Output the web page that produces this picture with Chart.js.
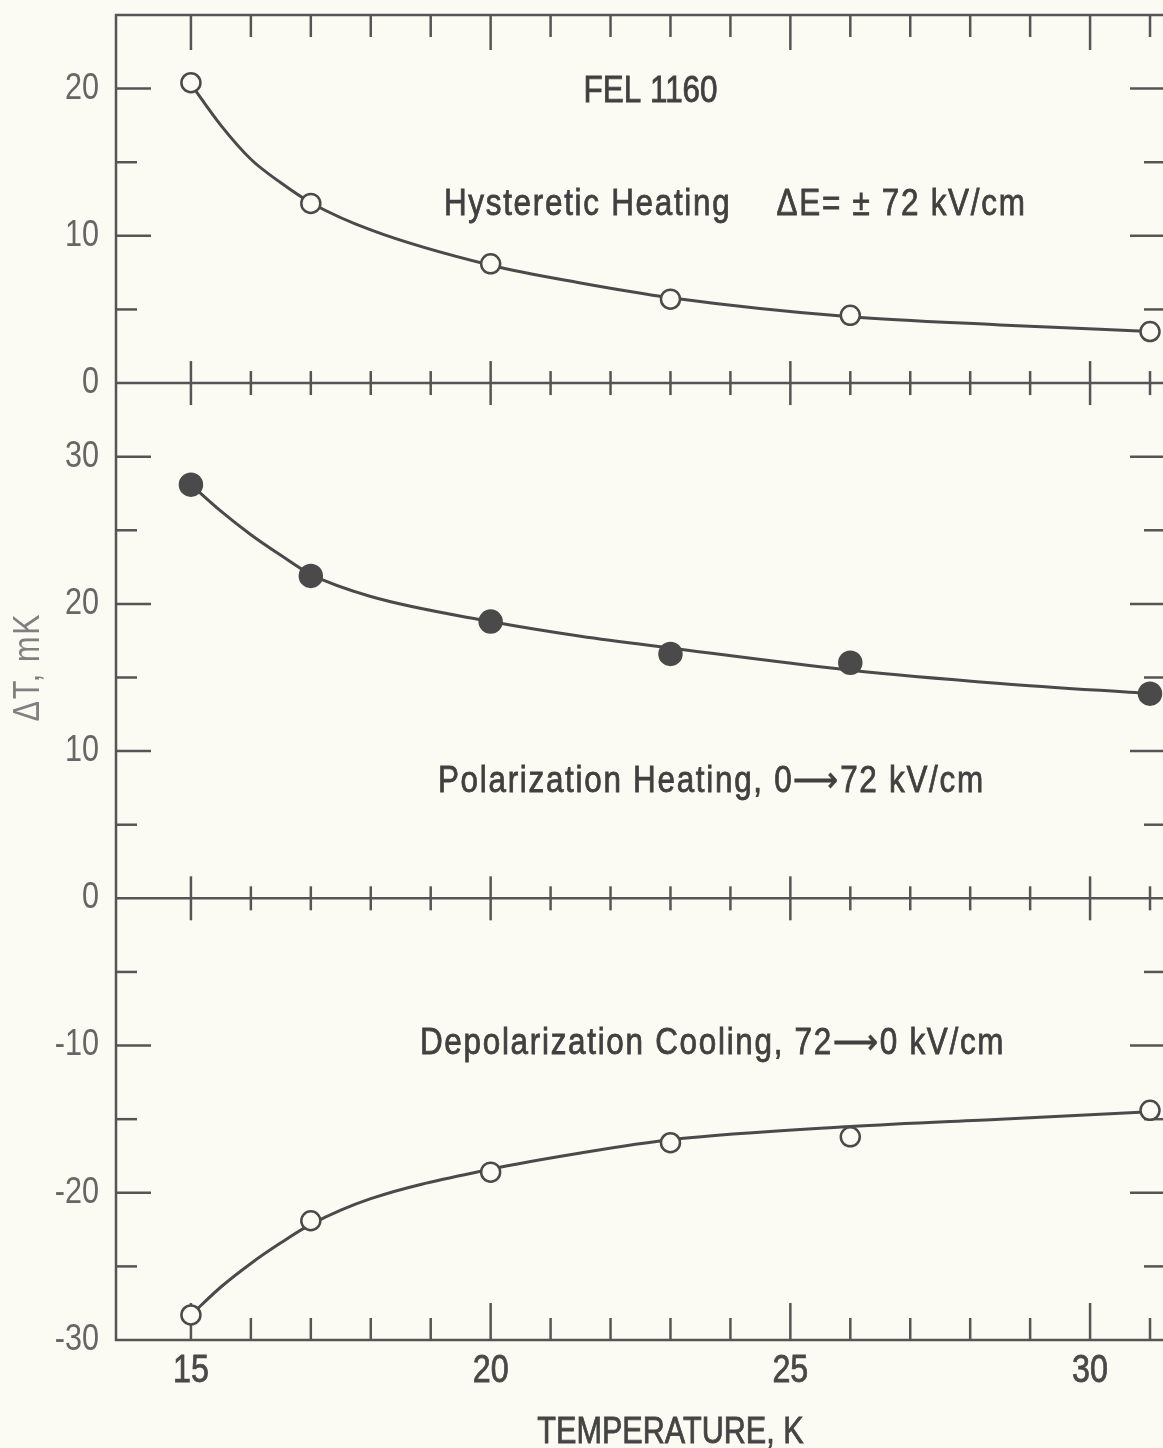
<!DOCTYPE html>
<html lang="en">
<head>
  <meta charset="UTF-8">
  <title>FEL 1160 - electrocaloric temperature change</title>
  <script src="https://cdn.jsdelivr.net/npm/chart.js"></script>
  <style>
    html, body { margin: 0; padding: 0; overflow: hidden; background: #fbfbf3; }
    #wrap { width: 1180px; height: 1448px; }
  </style>
</head>
<body>
<div id="wrap"><canvas id="dtChart" width="1180" height="1448"></canvas></div>

<script>
// measured points, temperature in K, delta T in mK
const temperatures = [15, 17, 20, 23, 26, 31];
const hystereticHeating = [20.4, 12.2, 8.1, 5.7, 4.6, 3.5];
const polarizationHeating = [28.1, 21.9, 18.8, 16.6, 16.0, 13.9];
const depolarizationCooling = [-28.3, -21.9, -18.6, -16.6, -16.2, -14.4];

// smooth curves drawn through the points
const curveTemps = [15, 15.5, 16, 16.5, 17, 18, 20, 21.5, 23, 26, 28.5, 31];
const hystereticCurve = [20.3, 17.5, 15.2, 13.6, 12.25, 10.4, 8.0, 6.8, 5.8, 4.5, 3.95, 3.5];
const polarizationCurve = [28.1, 26.3, 24.7, 23.3, 22.0, 20.5, 18.8, 17.8, 17.0, 15.5, 14.6, 13.9];
const depolarizationCurve = [-28.3, -26.4, -24.8, -23.4, -22.15, -20.4, -18.4, -17.3, -16.4, -15.5, -15.0, -14.5];

const xTickLabels = [15, 20, 25, 30];

const ink = "#4a4a4a";
const paper = "#fbfbf3";
const fontFamily = "'Liberation Sans', Arial, sans-serif";
const squeeze = 0.85; // condensed lettering

const pts = (xs, ys) => xs.map((x, i) => ({ x: x, y: ys[i] }));

function markers(label, axis, ys, filled) {
  return {
    label: label,
    yAxisID: axis,
    data: pts(temperatures, ys),
    showLine: false,
    pointRadius: filled ? 11 : 9.5,
    pointBorderWidth: 2.5,
    pointBorderColor: ink,
    pointBackgroundColor: filled ? ink : paper,
    order: 0
  };
}

function curve(label, axis, ys) {
  return {
    label: label,
    yAxisID: axis,
    data: pts(curveTemps, ys),
    showLine: true,
    pointRadius: 0,
    borderColor: ink,
    borderWidth: 3,
    cubicInterpolationMode: "monotone",
    order: 1
  };
}

function drawText(ctx, text, x, y, o) {
  ctx.save();
  ctx.translate(x, y);
  if (o.rotate) ctx.rotate(o.rotate);
  ctx.scale(squeeze, 1);
  ctx.font = o.size + "px " + fontFamily;
  ctx.fillStyle = o.color;
  ctx.letterSpacing = (o.spacing || 0) + "px";
  ctx.textAlign = o.align || "left";
  ctx.textBaseline = o.baseline || "alphabetic";
  ctx.fillText(text, 0, 0);
  if (o.heavy) {
    ctx.strokeStyle = o.color;
    ctx.lineWidth = 0.8;
    ctx.strokeText(text, 0, 0);
  }
  ctx.restore();
}

// frame, zero lines and inward tick marks
const framePlugin = {
  id: "frame",
  beforeDatasetsDraw(chart) {
    const { ctx, chartArea: a, scales } = chart;
    const x = scales.x;
    const zeros = [scales.yTop.getPixelForValue(0), scales.yLow.getPixelForValue(0)];
    const line = (x1, y1, x2, y2) => { ctx.beginPath(); ctx.moveTo(x1, y1); ctx.lineTo(x2, y2); ctx.stroke(); };

    ctx.save();
    ctx.strokeStyle = "#555";
    ctx.lineWidth = 2.5;
    ctx.strokeRect(a.left, a.top, a.right - a.left, a.bottom - a.top);
    zeros.forEach(y => line(a.left, y, a.right, y));

    x.ticks.forEach(t => {
      if (t.value < xTickLabels[0]) return;
      const px = x.getPixelForValue(t.value);
      const major = t.value % 5 === 0;
      line(px, a.top, px, a.top + (major ? 35 : 22));
      line(px, a.bottom, px, a.bottom - (major ? 37 : 22));
      zeros.forEach(y => line(px, y - (major ? 22 : 12), px, y + (major ? 22 : 12)));
    });

    [scales.yTop, scales.yLow].forEach(s => {
      s.ticks.forEach(t => {
        if (t.value === 0 || t.value === s.min || t.value === s.max) return;
        const py = s.getPixelForValue(t.value);
        const len = t.value % 10 === 0 ? 35 : 21;
        line(a.left, py, a.left + len, py);
        line(a.right, py, a.right - len, py);
      });
    });
    ctx.restore();
  }
};

// captions inside the plot
const notes = [
  { text: "FEL 1160", x: 21.55, y: 19.07, axis: "yTop", spacing: 0 },
  { text: "Hysteretic Heating", x: 19.22, y: 11.44, axis: "yTop", spacing: 2 },
  { text: "\u0394E= \u00b1 72 kV/cm", x: 24.77, y: 11.44, axis: "yTop", spacing: 2 },
  { text: "Polarization Heating, 0\u27f672 kV/cm", x: 19.12, y: 7.19, axis: "yLow", spacing: 2 },
  { text: "Depolarization Cooling, 72\u27f60 kV/cm", x: 18.82, y: -10.58, axis: "yLow", spacing: 2 }
];

// tick labels, axis titles and captions
const labelsPlugin = {
  id: "labels",
  afterDraw(chart) {
    const { ctx, chartArea: a, scales } = chart;
    const x = scales.x;

    x.ticks.forEach(t => {
      if (!xTickLabels.includes(t.value)) return;
      drawText(ctx, String(t.value), x.getPixelForValue(t.value), 1372,
        { size: 38, color: "#484848", align: "center", baseline: "middle", heavy: true });
    });

    [scales.yTop, scales.yLow].forEach(s => {
      s.ticks.forEach(t => {
        if (t.value % 10 !== 0) return;
        drawText(ctx, String(t.value), a.left - 17, s.getPixelForValue(t.value),
          { size: 36, color: "#666", align: "right", baseline: "middle" });
      });
    });

    drawText(ctx, "TEMPERATURE, K", x.getPixelForValue(23), 1433,
      { size: 36, color: "#444", align: "center", baseline: "middle", heavy: true });
    drawText(ctx, "\u0394T, mK", 29, 667,
      { size: 36, color: "#808080", align: "center", baseline: "middle", spacing: 2, rotate: -Math.PI / 2 });

    notes.forEach(n => {
      drawText(ctx, n.text, x.getPixelForValue(n.x), scales[n.axis].getPixelForValue(n.y),
        { size: 37, color: "#404040", spacing: n.spacing, heavy: true });
    });
  }
};

function yAxis(min, max, weight) {
  return {
    type: "linear",
    position: "left",
    stack: "dT",
    stackWeight: weight,
    min: min,
    max: max,
    grid: { display: false, drawTicks: false },
    border: { display: false },
    ticks: { display: false, stepSize: 5, autoSkip: false },
    afterFit(s) { s.width = 116; s.paddingTop = 0; s.paddingBottom = 0; }
  };
}

new Chart(document.getElementById("dtChart"), {
  type: "scatter",
  data: {
    datasets: [
      markers("Hysteretic heating", "yTop", hystereticHeating, false),
      markers("Polarization heating", "yLow", polarizationHeating, true),
      markers("Depolarization cooling", "yLow", depolarizationCooling, false),
      curve("Hysteretic heating fit", "yTop", hystereticCurve),
      curve("Polarization heating fit", "yLow", polarizationCurve),
      curve("Depolarization cooling fit", "yLow", depolarizationCurve)
    ]
  },
  options: {
    responsive: false,
    animation: false,
    layout: { padding: { top: 15, right: 15, left: 0, bottom: 0 } },
    plugins: { legend: { display: false }, tooltip: { enabled: false } },
    scales: {
      x: {
        type: "linear",
        min: 13.75,
        max: 31.25,
        grid: { display: false, drawTicks: false },
        border: { display: false },
        ticks: { display: false, stepSize: 1, includeBounds: false, autoSkip: false },
        afterFit(s) { s.height = 108; s.paddingLeft = 0; s.paddingRight = 0; }
      },
      yLow: yAxis(-30, 35, 65),
      yTop: yAxis(0, 25, 25)
    }
  },
  plugins: [framePlugin, labelsPlugin]
});
</script>
</body>
</html>
